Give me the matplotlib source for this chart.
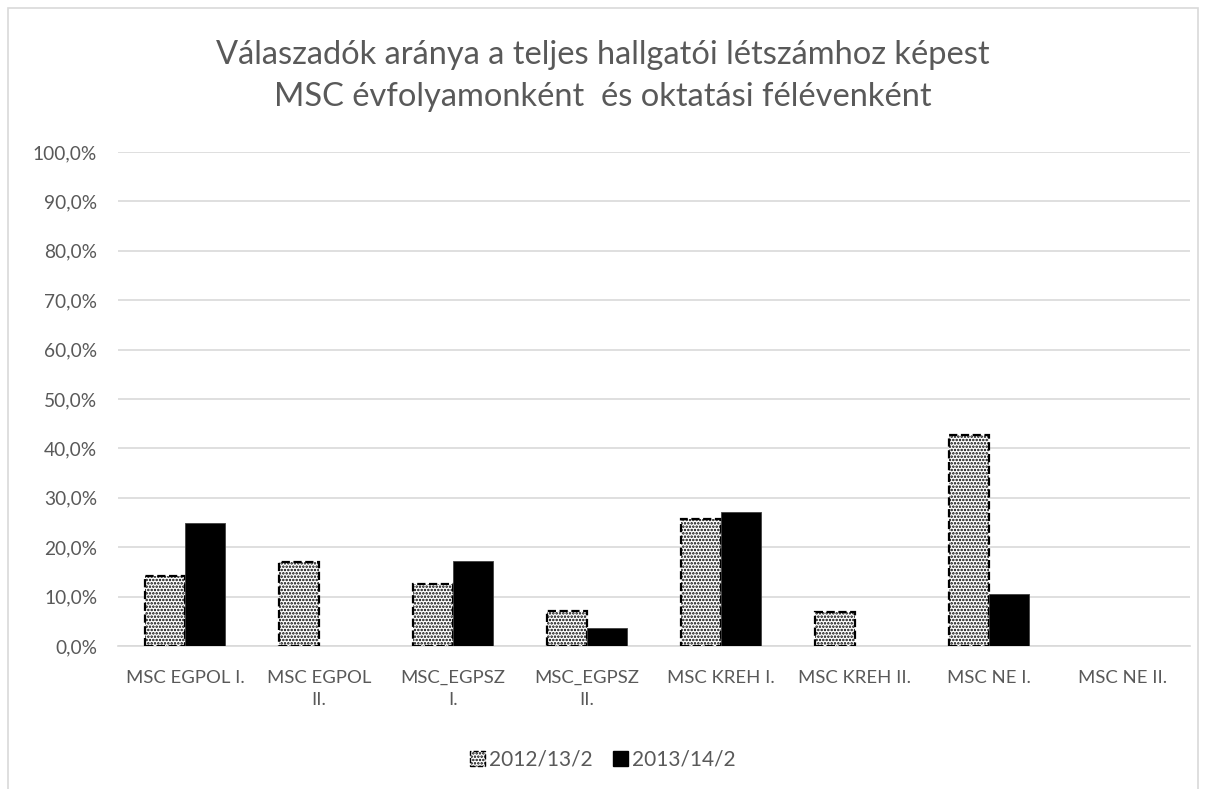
import numpy as np
import matplotlib.pyplot as plt
from matplotlib.patches import Rectangle, Patch

categories = ['MSC EGPOL I.', 'MSC EGPOL\nII.', 'MSC_EGPSZ\nI.', 'MSC_EGPSZ\nII.',
              'MSC KREH I.', 'MSC KREH II.', 'MSC NE I.', 'MSC NE II.']
s2012 = [14.1, 17.1, 12.6, 7.1, 25.7, 6.9, 42.8, 0.0]
s2013 = [24.8, 0.0, 17.3, 3.6, 27.2, 0.0, 10.6, 0.0]
series_names = ['2012/13/2', '2013/14/2']
yticks = np.arange(0, 101, 10)

plt.rcParams['font.family'] = ['Lato', 'DejaVu Sans']
plt.rcParams['hatch.linewidth'] = 1.2
txt = '#595959'

fig = plt.figure(figsize=(12.06, 7.89), dpi=100)
ax = fig.add_axes([118 / 1206, 1 - 646 / 789, (1190 - 118) / 1206, (646 - 152) / 789])

x = np.arange(len(categories))
w = 0.295
b1 = ax.bar(x - w / 2, s2012, w, facecolor='white', edgecolor='black', hatch='.....',
            linestyle='--', linewidth=1.6, zorder=3)
b2 = ax.bar(x + w / 2, s2013, w, color='black', edgecolor='#404040', linewidth=0.6, zorder=3)
# empty bars leave no outline
for bars, vals in [(b1, s2012), (b2, s2013)]:
    for r, v in zip(bars, vals):
        if v == 0:
            r.set_visible(False)

ax.set_xlim(-0.5, len(categories) - 0.5)
ax.set_ylim(0, 100)
ax.set_yticks(yticks)
ax.set_yticklabels([f'{v:.1f}%'.replace('.', ',') for v in yticks], color=txt, fontsize=13.8)
ax.set_xticks(x)
ax.set_xticklabels(categories, color=txt, fontsize=13.3, linespacing=1.5)
ax.tick_params(axis='y', length=0, pad=15)
ax.tick_params(axis='x', length=0, pad=17)
ax.grid(axis='y', color='#d9d9d9', linewidth=1.2, zorder=0)
for s in ['top', 'right', 'left']:
    ax.spines[s].set_visible(False)
ax.spines['bottom'].set_color('#d9d9d9')
ax.spines['bottom'].set_linewidth(1.2)

fig.text(0.5, 1 - 55 / 789, 'Válaszadók aránya a teljes hallgatói létszámhoz képest',
         ha='center', va='center', fontsize=23.5, color=txt)
fig.text(0.5, 1 - 97 / 789, 'MSC évfolyamonként  és oktatási félévenként',
         ha='center', va='center', fontsize=23.5, color=txt)

handles = [Patch(facecolor='white', edgecolor='black', hatch='.....', linestyle='--'),
           Patch(facecolor='black', edgecolor='black')]
fig.legend(handles, series_names, loc='center', bbox_to_anchor=(0.5, 1 - 760 / 789),
           ncol=2, frameon=False, fontsize=15, labelcolor=txt,
           handlelength=0.7, handleheight=0.7, handletextpad=0.2, columnspacing=1.0)

fig.patches.append(Rectangle((8 / 1206, -0.05), (1198 - 8) / 1206, 1.05 - 8 / 789,
                             transform=fig.transFigure, fill=False,
                             edgecolor='#d9d9d9', linewidth=1.2))

fig.savefig('out.png', dpi=100)
